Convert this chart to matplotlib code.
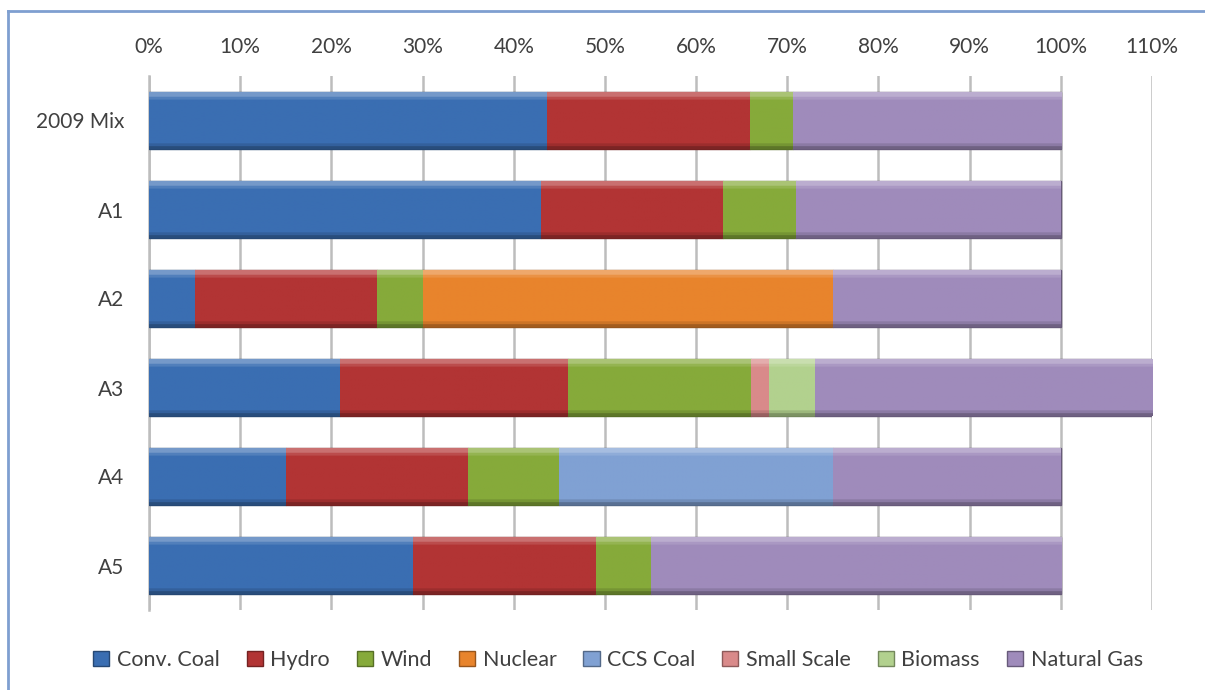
import numpy as np
import matplotlib.pyplot as plt
from matplotlib.colors import to_rgb
from matplotlib.lines import Line2D

plt.rcParams['font.family'] = ['Lato', 'DejaVu Sans']

# Generation mix per scenario (% of demand)
scenarios = ['2009 Mix', 'A1', 'A2', 'A3', 'A4', 'A5']
sources = ['Conv. Coal', 'Hydro', 'Wind', 'Nuclear', 'CCS Coal',
           'Small Scale', 'Biomass', 'Natural Gas']
conv_coal = [43.7, 43, 5, 21, 15, 29]
hydro = [22.2, 20, 20, 25, 20, 20]
wind = [4.7, 8, 5, 20, 10, 6]
nuclear = [0, 0, 45, 0, 0, 0]
ccs_coal = [0, 0, 0, 0, 30, 0]
small_scale = [0, 0, 0, 2, 0, 0]
biomass = [0, 0, 0, 5, 0, 0]
natural_gas = [29.4, 29, 25, 37, 25, 45]
colors = ['#3a6eb2', '#b23434', '#86aa3a', '#e8842c', '#80a1d3',
          '#d98a8a', '#b2d18e', '#9f8bbb']

series = [conv_coal, hydro, wind, nuclear, ccs_coal, small_scale, biomass, natural_gas]

fig = plt.figure(figsize=(12.05, 6.90), dpi=100)
ax = fig.add_axes([149 / 1205, 1 - 610 / 690, 1003 / 1205, 534 / 690])

y = np.arange(len(scenarios))
left = np.zeros(len(scenarios))
handles = []


def shade(rgb, f):
    rgb = np.array(rgb)
    if f >= 0:
        return rgb + (1 - rgb) * f
    return rgb * (1 + f)


for name, vals, col in zip(sources, series, colors):
    vals = np.array(vals, dtype=float)
    rgb = to_rgb(col)
    bars = ax.barh(y, vals, left=left, height=0.64, color=col,
                   edgecolor=shade(rgb, -0.35), linewidth=1.0, zorder=3)
    # bevel-like vertical gradient clipped to each bar
    n = 60
    t = np.linspace(0, 1, n)
    fac = np.where(t < 0.07, 0.3, np.where(t < 0.12, 0.12,
                   np.where(t > 0.95, -0.3, np.where(t > 0.9, -0.12, 0.0))))
    grad = np.array([shade(rgb, f) for f in fac])[:, None, :]
    for p, v in zip(bars.patches, vals):
        if v <= 0:
            continue
        x0, y0 = p.get_x(), p.get_y()
        im = ax.imshow(grad, extent=(x0, x0 + p.get_width(), y0 + p.get_height(), y0),
                       aspect='auto', zorder=3.5, interpolation='bilinear')
        im.set_clip_path(p)
    left += vals
    handles.append(plt.Rectangle((0, 0), 1, 1, facecolor=col,
                                 edgecolor=shade(rgb, -0.35), linewidth=1))

ax.set_xlim(0, 110)
ax.set_ylim(len(scenarios) - 0.5, -0.5)
ax.set_xticks(np.arange(0, 111, 10))
ax.set_xticklabels([f'{v}%' for v in range(0, 111, 10)])
ax.xaxis.tick_top()
ax.set_yticks(y)
ax.set_yticklabels(scenarios)
ax.tick_params(axis='x', length=0, pad=14, labelsize=15, labelcolor='#404040')
ax.tick_params(axis='y', length=0, pad=18, labelsize=15, labelcolor='#404040')
ax.grid(axis='x', color='#bdbdbd', linewidth=1.8, zorder=0)
for s in ['top', 'right', 'bottom']:
    ax.spines[s].set_visible(False)
ax.spines['left'].set_color('#bdbdbd')
ax.spines['left'].set_linewidth(1.8)

fig.legend(handles, sources, loc='center', ncol=8, frameon=False,
           bbox_to_anchor=(618 / 1205, 1 - 660 / 690), fontsize=15.5,
           handlelength=0.75, handleheight=0.75, handletextpad=0.35,
           columnspacing=1.25, labelcolor='#404040')

# outer chart border
fig.add_artist(Line2D([8 / 1205, 1], [1 - 11 / 690] * 2, color='#7f9fd0', linewidth=2))
fig.add_artist(Line2D([8 / 1205] * 2, [0, 1 - 11 / 690], color='#7f9fd0', linewidth=2))

fig.savefig('out.png', dpi=100)
